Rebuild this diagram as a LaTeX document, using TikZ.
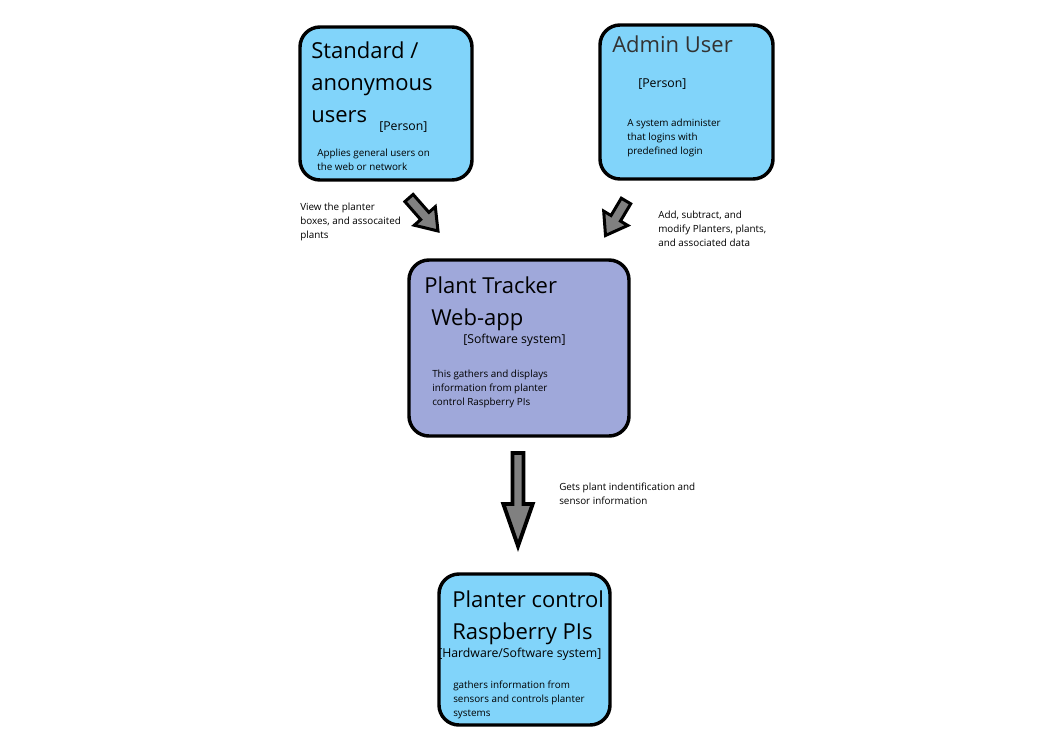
\documentclass[tikz,border=0pt]{standalone}
\usepackage{fontspec}
\setmainfont{Open Sans}
\usetikzlibrary{calc}
\definecolor{personblue}{HTML}{81D4FA}
\definecolor{systemindigo}{HTML}{9FA8DA}
\definecolor{arrowgray}{HTML}{808080}
\tikzset{
  personbox/.style={draw=black, line width=2.6pt, rounded corners=15pt, fill=personblue, inner sep=0pt},
  systembox/.style={personbox, fill=systemindigo},
  title/.style={anchor=base west, inner sep=0pt, align=left, font=\fontsize{16.5}{24}\selectfont},
  tag/.style={anchor=base west, inner sep=0pt, font=\fontsize{9.2}{11}\selectfont},
  note/.style={anchor=base west, inner sep=0pt, align=left, font=\fontsize{7.4}{10.5}\selectfont},
  fatarrow/.style={draw=black, fill=arrowgray, line width=2.25pt}
}
% block arrow: from, to, head length, head half width
\newcommand{\blockarrow}[5][]{%
  \draw[fatarrow,#1] let \p1=($(#3)-(#2)$), \n1={atan2(\y1,\x1)}, \n2={veclen(\x1,\y1)} in
    [shift={(#2)}, rotate=\n1]
    (0pt,-4.1pt) -- ({\n2*1pt-#4},-4.1pt) -- ({\n2*1pt-#4},-#5) -- ({\n2*1pt},0pt)
    -- ({\n2*1pt-#4},#5) -- ({\n2*1pt-#4},4.1pt) -- (0pt,4.1pt) -- cycle;}
\begin{document}
\begin{tikzpicture}[x=0.75pt,y=-0.75pt]
    \useasboundingbox (0,0) rectangle (1056,733);
    % boxes
    \node[personbox, minimum width=129pt, minimum height=114.75pt] (std) at (386,103.5) {};
    \node[personbox, minimum width=129.75pt, minimum height=115.5pt] (admin) at (686.5,102) {};
    \node[systembox, minimum width=165pt, minimum height=132pt] (webapp) at (519,348) {};
    \node[personbox, minimum width=128.25pt, minimum height=113.25pt] (pis) at (524.5,649.5) {};
    % standard users (multi-line texts sit on their last line)
    \node[title] (stdtitle) at (311,122) {Standard /\\anonymous\\users};
    \node[tag] (stdtag) at (379,130) {[Person]};
    \node[note] (stdnote) at (317,170) {Applies general users on\\the web or network};
    % admin
    \node[title, text=black!80] (admintitle) at (612,52) {Admin User};
    \node[tag] (admintag) at (638,87) {[Person]};
    \node[note] (adminnote) at (627,154) {A system administer\\that logins with\\predefined login};
    % web app
    \node[title] (webtitle) at (424,293) {Plant Tracker};
    \node[title] (webtitleb) at (431,325) {Web-app};
    \node[tag] (webtag) at (463,343) {[Software system]};
    \node[note] (webnote) at (432,405) {This gathers and displays\\information from planter\\control Raspberry PIs};
    % raspberry pis
    \node[title] (pistitle) at (452,639) {Planter control\\Raspberry PIs};
    \node[tag] (pistag) at (438,657) {[Hardware/Software system]};
    \node[note] (pisnote) at (453,716) {gathers information from\\sensors and controls planter\\systems};
    % arrow labels
    \node[note] (viewlbl) at (300,238) {View the planter\\boxes, and assocaited\\plants};
    \node[note] (editlbl) at (658,246) {Add, subtract, and\\modify Planters, plants,\\and associated data};
    \node[note] (getlbl) at (559,504) {Gets plant indentification and\\sensor information};
    % arrows
    \coordinate (v1) at (409,198);
    \coordinate (v2) at (438,231);
    \coordinate (e1) at (626,201);
    \coordinate (e2) at (605.5,235.5);
    \coordinate (g1) at (518,453);
    \coordinate (g2) at (518,546);
    \blockarrow{v1}{v2}{15pt}{10.5pt}
    \blockarrow{e1}{e2}{15pt}{10.5pt}
    \blockarrow[line width=2.9pt]{g1}{g2}{31.5pt}{11pt}
\end{tikzpicture}
\end{document}
